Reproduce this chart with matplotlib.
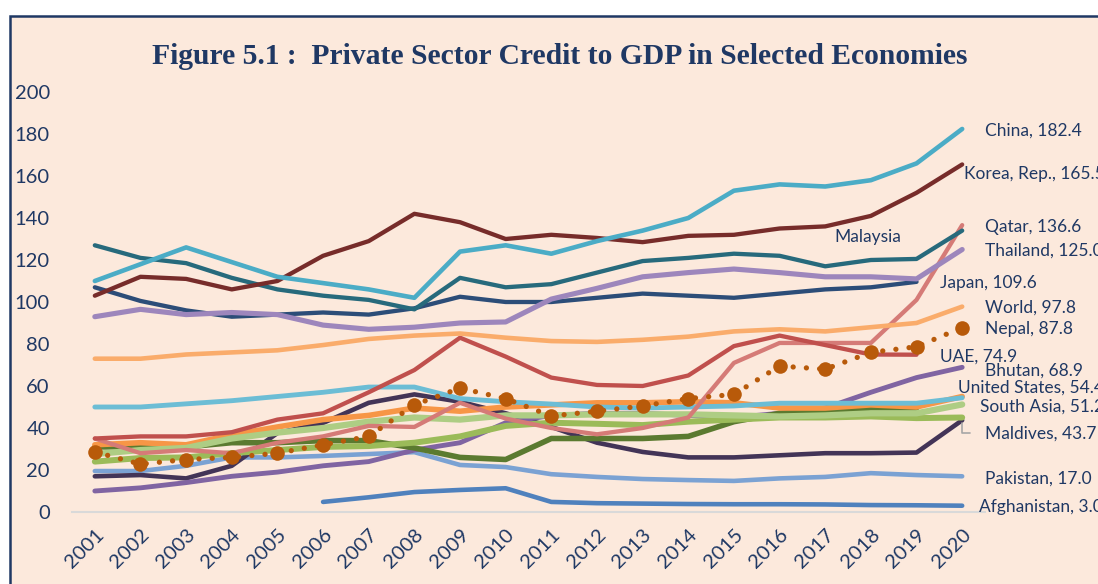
import numpy as np
import matplotlib
matplotlib.use('Agg')
import matplotlib.pyplot as plt
from matplotlib.patches import Rectangle

years = list(range(2001, 2021))

china = [110, 118, 126, 119, 112, 109, 106, 102, 124, 127, 123, 129, 134, 140, 153, 156, 155, 158, 166, 182.4]
korea = [103, 112, 111, 106, 110, 122, 129, 142, 138, 130, 132, 130.5, 128.5, 131.5, 132, 135, 136, 141, 152, 165.5]
malaysia = [127, 121, 118.5, 111.5, 106, 103, 101, 96.5, 111.5, 107, 108.5, 114, 119.5, 121, 123, 122, 117, 120, 120.5, 134]
thailand = [93, 96.5, 94, 95, 94, 89, 87, 88, 90, 90.5, 101.4, 106.5, 112, 114, 115.7, 114, 112, 112, 111, 125.0]
japan = [107, 100.5, 96, 93, 94, 95, 94, 97, 102.5, 100, 100, 102, 104, 103, 102, 104, 106, 107, 109.6, np.nan]
world = [73, 73, 75, 76, 77, 79.5, 82.4, 84, 85, 83, 81.4, 81, 82, 83.5, 86, 87, 86, 88, 90, 97.8]
nepal = [28.6, 22.8, 25, 26, 28, 32, 36, 51, 59, 54, 45.7, 48, 50.5, 54, 56, 69.5, 68, 76, 78.7, 87.8]
uae = [35, 36, 36, 38, 44, 47, 57, 67.6, 83, 74, 64, 60.5, 60, 65, 79, 84, 79.5, 75, 74.9, np.nan]
qatar = [35, 28, 29.5, 28, 33, 36, 41, 40.5, 52, 44.5, 40, 37, 40, 45, 71, 80.5, 80.5, 80.5, 101, 136.6]
bhutan = [10, 11.5, 14, 17, 19, 22, 24, 29.5, 33, 42.5, 46, 47, 47, 46, 45, 47, 49.5, 57, 64, 68.9]
us = [50, 50, 51.5, 53, 55, 57, 59.5, 59.5, 54, 52.5, 51.4, 50, 49.5, 50, 50.5, 51.8, 51.8, 51.8, 51.8, 54.4]
south_asia = [27.6, 29.5, 30.5, 35, 37.8, 40, 43, 45, 44, 46, 46, 46.5, 46.5, 46.5, 46, 45.5, 46, 47, 47, 51.2]
green_b = [24, 25.7, 26, 28, 29.5, 31, 31.4, 33, 36, 41, 42.5, 42, 41.4, 43, 44, 45, 45, 45.5, 44.7, 45]
green_c = [31, 31, 31, 33, 33, 34, 34, 30.5, 26, 25, 35, 35, 35, 36, 43, 47, 47.6, 49.5, 49.5, np.nan]
orange_b = [32, 33, 32, 36.7, 40.5, 44, 46, 49.5, 48, 50, 51, 52, 52, 52.5, 52, 49.5, 49.5, 51, 50, 55]
maldives = [17, 17.6, 16, 22, 37.6, 42.4, 52, 56, 52.5, 47, 40.5, 33, 28.6, 26, 26, 27, 28, 28, 28.3, 43.7]
pakistan = [19.5, 19.5, 22, 26, 26, 26.7, 27.6, 28.5, 22.4, 21.4, 18, 16.7, 15.7, 15.2, 14.8, 16, 16.7, 18.5, 17.6, 17.0]
afghanistan = [np.nan] * 5 + [4.8, 7, 9.5, 10.5, 11.3, 4.8, 4.2, 4, 3.8, 3.7, 3.7, 3.6, 3.3, 3.2, 3.0]

navy = '#1F3864'
peach = '#FCE9DC'

fig = plt.figure(figsize=(10.98, 5.84), dpi=100)
fig.patch.set_facecolor('white')
# peach panel with navy border on top/left
fig.patches.append(Rectangle((10 / 1098, -0.1), 1.2, 1.1 - 16 / 584, transform=fig.transFigure,
                             facecolor=peach, edgecolor=navy, lw=1.8, zorder=-10))

ax = fig.add_axes([72 / 1098, 72 / 584, 913 / 1098, 420 / 584])
ax.set_facecolor('none')
ax.set_zorder(2)

# (values, colour, width)
series = [
    (afghanistan, '#4F81BD', 3.3),
    (pakistan, '#7BA2D3', 3.3),
    (maldives, '#433457', 3.3),
    (bhutan, '#8064A2', 3.5),
    (green_c, '#5B7A30', 4.0),
    (orange_b, '#F79646', 4.0),
    (green_b, '#9BBB59', 4.3),
    (south_asia, '#AECD84', 4.5),
    (us, '#6CBDD5', 3.5),
    (qatar, '#D57B77', 3.1),
    (uae, '#C0504D', 3.1),
    (world, '#FAAC6B', 3.3),
    (japan, '#2C4D78', 3.1),
    (thailand, '#9D86BC', 3.7),
    (malaysia, '#276A7C', 3.1),
    (korea, '#772C2A', 3.1),
    (china, '#4BACC6', 3.3),
]
for vals, col, lw in series:
    ax.plot(years, vals, color=col, lw=lw, solid_capstyle='round', solid_joinstyle='round')

ax.plot(years, nepal, color='#B85A0A', lw=3.8, linestyle=(0, (0.01, 2.5)),
        dash_capstyle='round', marker='o', markersize=10.5, markeredgewidth=0, zorder=5)

ax.set_xlim(2000.5, 2020.5)
ax.set_ylim(0, 200)
ax.set_yticks(range(0, 201, 20))
ax.set_xticks(years)
ax.set_xticklabels([str(y) for y in years], rotation=45, ha='right', va='top',
                   rotation_mode='anchor')
ax.tick_params(axis='both', length=0, colors=navy, labelsize=14.5)
ax.tick_params(axis='y', pad=16)
ax.tick_params(axis='x', pad=10)
for lab in ax.get_xticklabels() + ax.get_yticklabels():
    lab.set_fontfamily('Lato')
for s in ['top', 'right', 'left']:
    ax.spines[s].set_visible(False)
ax.spines['bottom'].set_color('#D9D9D9')
ax.spines['bottom'].set_linewidth(1.5)

lab_kw = dict(textcoords='offset pixels', color=navy, fontsize=12.5, fontfamily='Lato',
              ha='left', va='center', annotation_clip=False)
labels = [
    ('China, 182.4', 2020, china[-1], (23, -2)),
    ('Korea, Rep., 165.5', 2020, korea[-1], (2, -10)),
    ('Qatar, 136.6', 2020, qatar[-1], (23, -2)),
    ('Thailand, 125.0', 2020, thailand[-1], (23, -1.5)),
    ('Japan, 109.6', 2019, japan[-2], (23, -1)),
    ('World, 97.8', 2020, world[-1], (23, -1.5)),
    ('Nepal, 87.8', 2020, nepal[-1], (23, -1.5)),
    ('UAE, 74.9', 2019, uae[-2], (23, -1.5)),
    ('Bhutan, 68.9', 2020, bhutan[-1], (23, -3)),
    ('United States, 54.4', 2020, us[-1], (-4, 10)),
    ('South Asia, 51.2', 2020, south_asia[-1], (18, -2.5)),
    ('Pakistan, 17.0', 2020, pakistan[-1], (23, -2)),
    ('Afghanistan, 3.0', 2020, afghanistan[-1], (17, -1.5)),
]
for txt, x, y, off in labels:
    ax.annotate(txt, xy=(x, y), xytext=off, **lab_kw)

ax.annotate('Maldives, 43.7', xy=(2020, maldives[-1]), xytext=(23, -13),
            arrowprops=dict(arrowstyle='-', color='#A6A6A6', lw=1.2,
                            connectionstyle='angle,angleA=0,angleB=90,rad=0',
                            shrinkA=9, shrinkB=2), **lab_kw)
ax.text(2017.93, 131, 'Malaysia', color=navy, fontsize=12.5, fontfamily='Lato',
        ha='center', va='center')

fig.text(0.5095, 1 - 57 / 584, 'Figure 5.1 :  Private Sector Credit to GDP in Selected Economies',
         ha='center', va='center', fontsize=21.3, fontweight='bold',
         fontfamily='Liberation Serif', color=navy)

fig.savefig('out.png', dpi=100)
